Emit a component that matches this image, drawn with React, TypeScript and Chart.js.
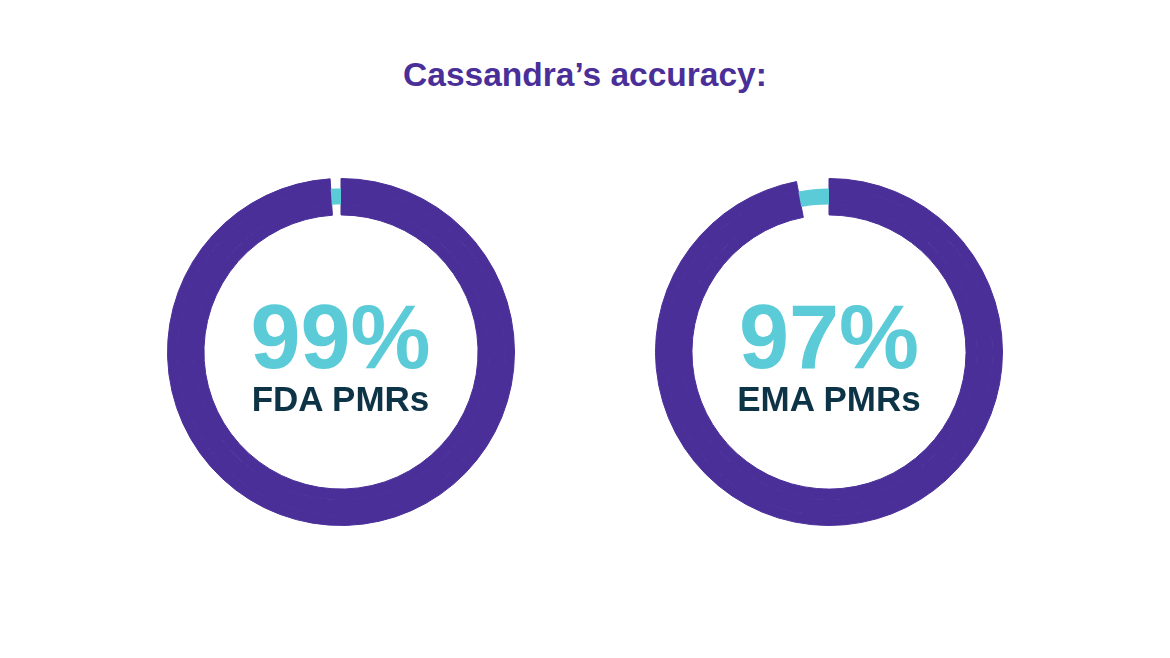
import React, { useEffect, useRef } from "react";
import { Chart, registerables } from "chart.js";

Chart.register(...registerables);

const title = "Cassandra’s accuracy:";
const categories = ["FDA PMRs", "EMA PMRs"];
const accuracy = [99, 97];
const remaining = [1, 3];
const centers = [340.5, 829];

const PURPLE = "#4a2f99";
const CYAN = "#5ccbd8";
const DARK = "#0d3446";
const FONT = "'Liberation Sans', Arial, Helvetica, sans-serif";

function Donut({ idx }: { idx: number }) {
  const ref = useRef<HTMLCanvasElement | null>(null);
  useEffect(() => {
    if (!ref.current) return;
    const v = accuracy[idx];
    const r = remaining[idx];
    const chart = new Chart(ref.current, {
      type: "doughnut",
      data: {
        labels: ["Accurate", "Other"],
        datasets: [
          {
            data: [v, r],
            backgroundColor: [PURPLE, "rgba(0,0,0,0)"],
            borderColor: [PURPLE, "rgba(0,0,0,0)"],
            borderWidth: [1, 0],
            weight: 10,
          },
          {
            data: [v, r],
            backgroundColor: [PURPLE, CYAN],
            borderColor: [PURPLE, CYAN],
            borderWidth: [1, 0],
            weight: 16,
          },
          {
            data: [v, r],
            backgroundColor: [PURPLE, "rgba(0,0,0,0)"],
            borderColor: [PURPLE, "rgba(0,0,0,0)"],
            borderWidth: [1, 0],
            weight: 10.5,
          },
        ],
      },
      options: {
        animation: false,
        responsive: false,
        maintainAspectRatio: false,
        events: [],
        cutout: "79%",
        layout: { padding: 0 },
        elements: { arc: { hoverOffset: 0, offset: 0 } as any },
        plugins: {
          legend: { display: false },
          tooltip: { enabled: false },
          title: { display: false },
        },
      } as any,
    });
    return () => chart.destroy();
  }, [idx]);

  const cx = centers[idx];
  const size = 348;
  return (
    <>
      <div
        style={{
          position: "absolute",
          left: cx - size / 2,
          top: 352 - size / 2,
          width: size,
          height: size,
        }}
      >
        <canvas ref={ref} width={size} height={size} style={{ width: size, height: size }} />
      </div>
      <div
        style={{
          position: "absolute",
          left: cx - 150,
          width: 300,
          top: 292,
          textAlign: "center",
          fontFamily: FONT,
          fontWeight: 700,
          fontSize: 90,
          lineHeight: "90px",
          color: CYAN,
          whiteSpace: "nowrap",
        }}
      >
        {accuracy[idx]}%
      </div>
      <div
        style={{
          position: "absolute",
          left: cx - 150,
          width: 300,
          top: 381,
          textAlign: "center",
          fontFamily: FONT,
          fontWeight: 700,
          fontSize: 35,
          lineHeight: "35px",
          color: DARK,
          whiteSpace: "nowrap",
        }}
      >
        {categories[idx]}
      </div>
    </>
  );
}

export default function App() {
  return (
    <div
      style={{
        position: "fixed",
        left: 0,
        top: 0,
        width: 1170,
        height: 658,
        background: "#ffffff",
        overflow: "hidden",
      }}
    >
      <div
        style={{
          position: "absolute",
          left: 0,
          width: 1170,
          top: 58,
          textAlign: "center",
          fontFamily: FONT,
          fontWeight: 700,
          fontSize: 33.5,
          lineHeight: "34px",
          color: PURPLE,
          paddingLeft: 0,
        }}
      >
        {title}
      </div>
      <Donut idx={0} />
      <Donut idx={1} />
    </div>
  );
}
